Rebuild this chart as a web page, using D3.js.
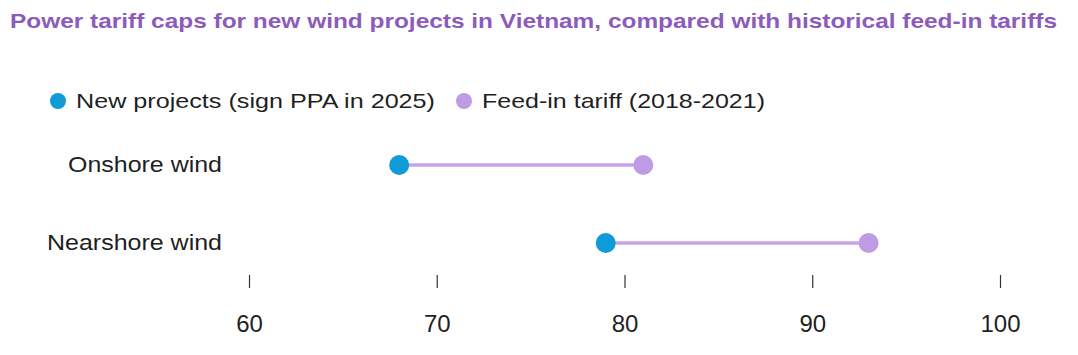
<!DOCTYPE html>
<html>
<head>
<meta charset="utf-8">
<script src="https://cdn.jsdelivr.net/npm/d3@7"></script>
<style>
  html, body { margin: 0; padding: 0; background: #fff; }
  svg { display: block; }
  text { font-family: "Liberation Sans", Arial, Helvetica, sans-serif; }
</style>
</head>
<body>
<svg id="chart" width="1078" height="355"></svg>
<script>
const title = "Power tariff caps for new wind projects in Vietnam, compared with historical feed-in tariffs";
const categories = ["Onshore wind", "Nearshore wind"];
const newProjects = [68, 79];
const feedInTariff = [81, 93];
const seriesNames = ["New projects (sign PPA in 2025)", "Feed-in tariff (2018-2021)"];
const tickValues = [60, 70, 80, 90, 100];

const colors = { newP: "#0f9bd7", fit: "#c09be5", line: "#c7a4ea", title: "#8c5bbb", text: "#1f1f1f" };

const svg = d3.select("#chart");

const x = d3.scaleLinear().domain([60, 100]).range([249, 1000]);
const y = d3.scalePoint().domain(categories).range([165, 243]);

// Title
svg.append("text")
  .attr("x", 10).attr("y", 28)
  .attr("font-size", 21).attr("font-weight", 700)
  .attr("fill", colors.title)
  .attr("textLength", 1047).attr("lengthAdjust", "spacingAndGlyphs")
  .text(title);

// Legend
const legendItems = [
  { name: seriesNames[0], color: colors.newP, cx: 58, tx: 76, w: 359 },
  { name: seriesNames[1], color: colors.fit, cx: 464, tx: 482, w: 283 }
];
const lg = svg.append("g");
legendItems.forEach(d => {
  lg.append("circle").attr("cx", d.cx).attr("cy", 101).attr("r", 8).attr("fill", d.color);
  lg.append("text").attr("x", d.tx).attr("y", 107.5)
    .attr("font-size", 21).attr("fill", colors.text)
    .attr("textLength", d.w).attr("lengthAdjust", "spacingAndGlyphs")
    .text(d.name);
});

// Category labels
const labelWidths = [154, 175];
svg.append("g").selectAll("text").data(categories).join("text")
  .attr("x", (d, i) => 222 - labelWidths[i]).attr("y", d => y(d) + 7)
  .attr("font-size", 22.5).attr("fill", colors.text)
  .attr("textLength", (d, i) => labelWidths[i]).attr("lengthAdjust", "spacingAndGlyphs")
  .text(d => d);

// Axis
const axis = d3.axisBottom(x).tickValues(tickValues).tickSize(13).tickPadding(24).tickFormat(d3.format("d"));
const ag = svg.append("g").attr("transform", "translate(0,275)").call(axis);
ag.select(".domain").remove();
ag.selectAll(".tick line").attr("stroke", "#333").attr("stroke-width", 1.2);
ag.selectAll(".tick text")
  .attr("y", 57).attr("dy", null)
  .attr("font-size", 24).attr("fill", colors.text)
  .attr("font-family", "'Liberation Sans', Arial, Helvetica, sans-serif");

// Data rows
const rows = categories.map((c, i) => ({ c, a: newProjects[i], b: feedInTariff[i] }));
const g = svg.append("g");
g.selectAll("line.conn").data(rows).join("line")
  .attr("class", "conn")
  .attr("x1", d => x(d.a)).attr("x2", d => x(d.b))
  .attr("y1", d => y(d.c)).attr("y2", d => y(d.c))
  .attr("stroke", colors.line).attr("stroke-width", 3.5);
g.selectAll("circle.fit").data(rows).join("circle")
  .attr("class", "fit")
  .attr("cx", d => x(d.b)).attr("cy", d => y(d.c)).attr("r", 10)
  .attr("fill", colors.fit);
g.selectAll("circle.newp").data(rows).join("circle")
  .attr("class", "newp")
  .attr("cx", d => x(d.a)).attr("cy", d => y(d.c)).attr("r", 10)
  .attr("fill", colors.newP);
</script>
</body>
</html>
